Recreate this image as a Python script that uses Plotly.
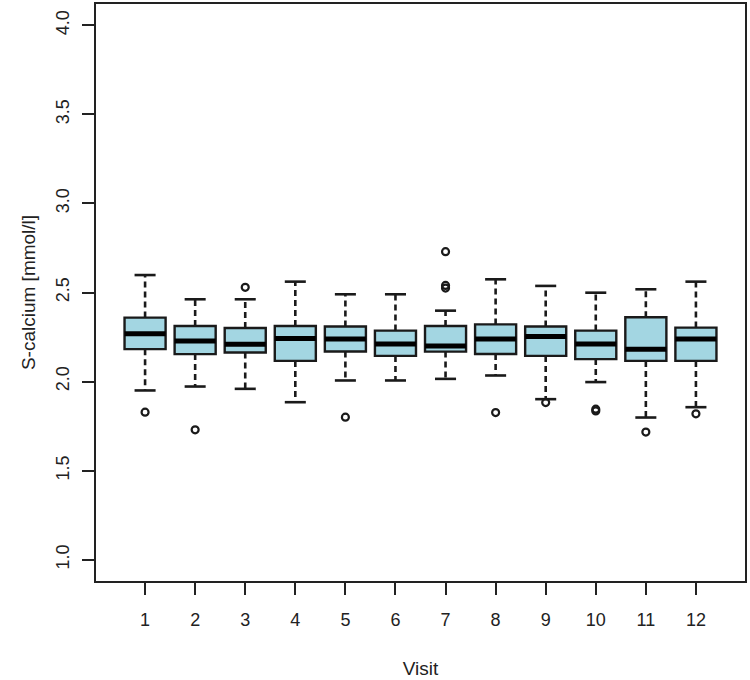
import plotly.graph_objects as go

visits = list(range(1, 13))
q1 = [2.182, 2.154, 2.163, 2.116, 2.169, 2.144, 2.168, 2.155, 2.144, 2.126, 2.116, 2.116]
med = [2.268, 2.228, 2.210, 2.241, 2.239, 2.211, 2.200, 2.239, 2.253, 2.211, 2.182, 2.239]
q3 = [2.359, 2.312, 2.301, 2.312, 2.309, 2.286, 2.312, 2.321, 2.309, 2.286, 2.361, 2.303]
lo = [1.950, 1.972, 1.959, 1.884, 2.006, 2.006, 2.015, 2.034, 1.901, 1.997, 1.798, 1.856]
hi = [2.598, 2.462, 2.462, 2.561, 2.490, 2.490, 2.398, 2.574, 2.537, 2.499, 2.518, 2.561]
outliers = {
    1: [1.828], 2: [1.729], 3: [2.529], 4: [], 5: [1.800], 6: [],
    7: [2.729, 2.540, 2.525], 8: [1.826], 9: [1.882], 10: [1.845, 1.835],
    11: [1.716], 12: [1.819],
}
y_ticks = [1.0, 1.5, 2.0, 2.5, 3.0, 3.5, 4.0]

BOX_W = 0.82
CAP_HALF = 0.21
FILL = "#a3d6e2"
INK = "#1a1a1a"
FONT = "Liberation Sans, Arial, sans-serif"

fig = go.Figure()

# whiskers (dashed)
wx, wy = [], []
for v, a, b, c, d in zip(visits, q1, q3, lo, hi):
    wx += [v, v, None, v, v, None]
    wy += [b, d, None, a, c, None]
fig.add_trace(go.Scatter(x=wx, y=wy, mode="lines",
                         line=dict(color=INK, width=2.6, dash="6px,4px"),
                         hoverinfo="skip", showlegend=False))

# staples
cx, cy = [], []
for v, c, d in zip(visits, lo, hi):
    cx += [v - CAP_HALF, v + CAP_HALF, None, v - CAP_HALF, v + CAP_HALF, None]
    cy += [d, d, None, c, c, None]
fig.add_trace(go.Scatter(x=cx, y=cy, mode="lines",
                         line=dict(color=INK, width=2.6),
                         hoverinfo="skip", showlegend=False))

# boxes
fig.add_trace(go.Box(x=visits, q1=q1, median=med, q3=q3,
                     lowerfence=q1, upperfence=q3,
                     width=BOX_W, fillcolor=FILL,
                     line=dict(color=INK, width=2.4),
                     whiskerwidth=0, boxpoints=False,
                     hoverinfo="skip", showlegend=False))

# medians (thick)
mx, my = [], []
for v, m in zip(visits, med):
    mx += [v - BOX_W / 2, v + BOX_W / 2, None]
    my += [m, m, None]
fig.add_trace(go.Scatter(x=mx, y=my, mode="lines",
                         line=dict(color="#000000", width=5),
                         hoverinfo="skip", showlegend=False))

# outliers
ox, oy = [], []
for v in visits:
    for val in outliers[v]:
        ox.append(v)
        oy.append(val)
fig.add_trace(go.Scatter(x=ox, y=oy, mode="markers",
                         marker=dict(symbol="circle-open", size=7,
                                     color=INK, line=dict(width=2.2, color=INK)),
                         hoverinfo="skip", showlegend=False))

axis_common = dict(showline=True, mirror=True, linecolor="#222222", linewidth=1.6,
                   ticks="outside", ticklen=12, tickwidth=2, tickcolor="#222222",
                   showgrid=False, zeroline=False, automargin=False,
                   tickfont=dict(family=FONT, size=18, color="#222222"))

fig.update_layout(
    width=750, height=680,
    margin=dict(l=96, r=5, t=4, b=99),
    paper_bgcolor="white", plot_bgcolor="white",
    showlegend=False, hovermode=False,
    xaxis=dict(range=[0.02, 12.98], tickmode="array", tickvals=visits,
               ticktext=[str(v) for v in visits], ticklabelstandoff=10,
               title=dict(text="Visit", font=dict(family=FONT, size=19, color="#222222"),
                          standoff=32),
               **axis_common),
    yaxis=dict(range=[0.88, 4.12], tickmode="array", tickvals=y_ticks,
               ticktext=[f"{t:.1f}" for t in y_ticks], tickangle=-90,
               ticklabelstandoff=6,
               title=dict(text="S-calcium [mmol/l]",
                          font=dict(family=FONT, size=19, color="#222222"),
                          standoff=12),
               **axis_common),
)

fig.write_html("out.html", config={"displayModeBar": False},
               post_script="document.body.style.margin='0';")
